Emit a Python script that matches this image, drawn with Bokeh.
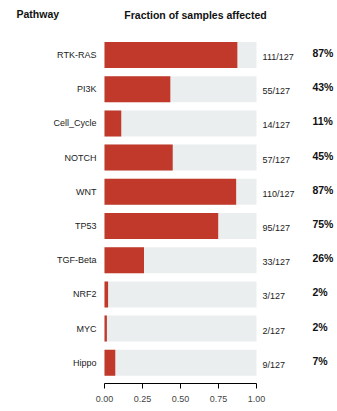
from bokeh.plotting import figure
from bokeh.models import ColumnDataSource, Range1d, LinearAxis, FixedTicker, Label
from bokeh.core.properties import value
from bokeh.embed import file_html
from bokeh.resources import INLINE

pathways = ["RTK-RAS", "PI3K", "Cell_Cycle", "NOTCH", "WNT", "TP53", "TGF-Beta", "NRF2", "MYC", "Hippo"]
affected = [111, 55, 14, 57, 110, 95, 33, 3, 2, 9]
total = 127
ticks = [0, 0.25, 0.5, 0.75, 1.0]

frac = [a / total for a in affected]
rows = list(range(len(pathways)))
src = ColumnDataSource(dict(
    y=rows,
    name=pathways,
    frac=frac,
    one=[1.0] * len(rows),
    count=[f"{a}/{total}" for a in affected],
    pct=[f"{round(f * 100):.0f}%" for f in frac],
))

FONT = "Liberation Sans"
W, H = 337, 411
frame_h = 383
px_per_x = 152.0
x0_px = 104.0
row0_px = 54.5
row_px = 34.2

p = figure(width=W, height=H, output_backend="svg", toolbar_location=None,
           x_range=Range1d(-x0_px / px_per_x, (W - x0_px) / px_per_x),
           y_range=Range1d((frame_h - row0_px) / row_px, -row0_px / row_px),
           x_axis_location=None, y_axis_location=None,
           min_border_left=0, min_border_right=0, min_border_top=0,
           min_border_bottom=H - frame_h)
p.outline_line_color = None
p.grid.visible = False
p.background_fill_color = "white"
p.border_fill_color = "white"

bh = 0.76
p.hbar(y="y", left=0, right="one", height=bh, source=src, fill_color="#ebeeef", line_color=None)
p.hbar(y="y", left=0, right="frac", height=bh, source=src, fill_color="#c0392b", line_color=None)

p.text(x=-0.053, y="y", text="name", source=src, text_align="right", text_baseline="middle",
       text_font=value(FONT), text_font_size="9px", text_color="#222222")
p.text(x=1.04, y="y", text="count", source=src, text_align="left", text_baseline="middle",
       y_offset=2, text_font=value(FONT), text_font_size="9px", text_color="#222222")
p.text(x=1.368, y="y", text="pct", source=src, text_align="left", text_baseline="middle",
       y_offset=-2, text_font=value(FONT), text_font_size="10.5px", text_font_style="bold",
       text_color="#111111")

ax = LinearAxis(ticker=FixedTicker(ticks=ticks), bounds=(0, 1))
ax.major_label_overrides = {t: f"{t:.2f}" for t in ticks}
ax.minor_tick_line_color = None
ax.major_tick_in = 0
ax.major_tick_out = 5
ax.axis_line_color = "black"
ax.major_tick_line_color = "black"
ax.major_label_text_font = FONT
ax.major_label_text_font_size = "9px"
ax.major_label_text_color = "#444444"
ax.major_label_standoff = 7
p.add_layout(ax, "below")

p.add_layout(Label(x=16, y=frame_h - 13, x_units="screen", y_units="screen", text="Pathway",
                   text_font=FONT, text_font_size="10.5px", text_font_style="bold",
                   text_baseline="middle", text_color="#111111"))
p.add_layout(Label(x=195, y=frame_h - 14, x_units="screen", y_units="screen",
                   text="Fraction of samples affected", text_align="center",
                   text_font=FONT, text_font_size="10.5px", text_font_style="bold",
                   text_baseline="middle", text_color="#111111"))

open("out.html", "w").write(file_html(p, INLINE))
